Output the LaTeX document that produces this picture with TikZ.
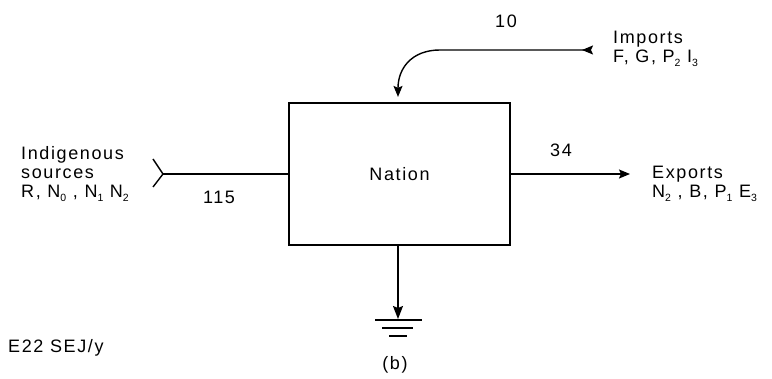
\documentclass[tikz,border=0pt]{standalone}
\usepackage{fontspec}
\setmainfont{Liberation Sans}[LetterSpace=9]
\usetikzlibrary{arrows.meta,calc}
\newcommand\lsub[1]{\raisebox{-0.45ex}{\fontsize{10.5}{10.5}\selectfont #1}}
\begin{document}
\begin{tikzpicture}[x=1pt,y=-1pt,
  font=\fontsize{18}{19}\selectfont,
  conn/.style={line width=1.4pt},
  txt/.style={inner sep=0pt, align=left},
  gline/.style={line width=1.9pt}]
\useasboundingbox (0,0) rectangle (772,379);
% box
\node[draw, line width=2.2pt, minimum width=221pt, minimum height=142pt, inner sep=0pt] (nation) at (399.5,174) {Nation};
% texts
\node[txt, anchor=north west] (src) at (21,146) {Indigenous\\sources\\R, N\lsub{0} , N\lsub{1} N\lsub{2}};
\node[txt] (n115) at (219,197) {115};
\node[txt] (n34) at (561,150) {34};
\node[txt] (n10) at (506,21) {10};
\node[txt, anchor=north west] (imp) at (613,31) {Imports\\F, G, P\lsub{2} I\lsub{3}};
\node[txt, anchor=north west] (exp) at (652,166) {Exports\\N\lsub{2} , B, P\lsub{1} E\lsub{3}};
\node[txt, anchor=west] (unit) at (8,348) {E22 SEJ/y};
\node[txt] (cap) at (395,365) {(b)};
% coordinates
\coordinate (yv) at (163,174);
\coordinate (yu) at (153,159);
\coordinate (yd) at (153,187);
\coordinate (impstart) at (593,50);
\coordinate (impbend) at (440,50);
\coordinate (expend) at (630,174);
\coordinate (gnd) at (398,319);
% connectors
\draw[conn] (yu) -- (yv) -- (yd);
\draw[conn] (yv) -- (nation.west);
\draw[conn, -{Stealth[length=11pt,width=9pt,inset=2pt]}] (nation.east) -- (expend);
\draw[conn, {Stealth[reversed,length=11pt,width=9pt,inset=2pt]}-{Stealth[length=11pt,width=9pt,inset=2pt]}]
  (impstart) -- (impbend) .. controls (412,50) and (398,68) .. ($(nation.north)+(-1.5,-5)$);
\draw[conn, -{Stealth[length=13pt,width=10pt,inset=2pt]}] (nation.south -| gnd) -- (gnd);
% ground
\draw[gline] ($(gnd)+(-23,1)$) -- ($(gnd)+(24,1)$);
\draw[gline] ($(gnd)+(-16,9)$) -- ($(gnd)+(15,9)$);
\draw[gline] ($(gnd)+(-9,17)$) -- ($(gnd)+(9,17)$);
\end{tikzpicture}
\end{document}
